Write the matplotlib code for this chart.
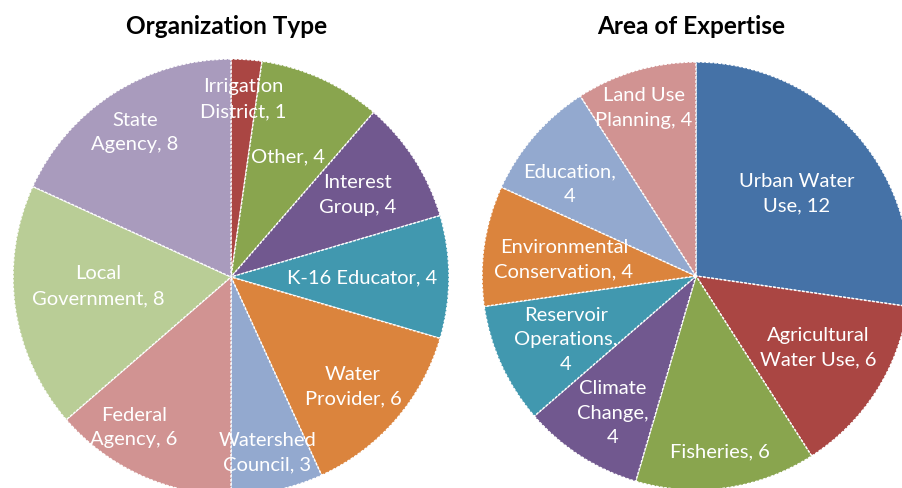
import matplotlib
matplotlib.use("Agg")
import matplotlib.pyplot as plt

W, H = 902, 489

# Organization Type
org_labels = ["Irrigation\nDistrict, 1", "Other, 4", "Interest\nGroup, 4",
              "K-16 Educator, 4", "Water\nProvider, 6", "Watershed\nCouncil, 3",
              "Federal\nAgency, 6", "Local\nGovernment, 8", "State\nAgency, 8"]
org_values = [1, 4, 4, 4, 6, 3, 6, 8, 8]
org_colors = ["#AA4643", "#89A54E", "#71588F", "#4198AF", "#DB843D",
              "#93A9CF", "#D19392", "#B9CD96", "#A99BBD"]

# Area of Expertise
area_labels = ["Urban Water\nUse, 12", "Agricultural\nWater Use, 6", "Fisheries, 6",
               "Climate\nChange,\n4", "Reservoir\nOperations,\n4",
               "Environmental\nConservation, 4", "Education,\n4", "Land Use\nPlanning, 4"]
area_values = [12, 6, 6, 4, 4, 4, 4, 4]
area_colors = ["#4572A7", "#AA4643", "#89A54E", "#71588F", "#4198AF",
               "#DB843D", "#93A9CF", "#D19392"]

# label placement (pie radius units), Excel-style "best fit"
org_pos = [(0.055, 0.82), (0.26, 0.555), (0.58, 0.38), (0.60, 0.0), (0.56, -0.50),
           (0.167, -0.80), (-0.445, -0.686), (-0.61, -0.037), (-0.44, 0.667)]
area_pos = [(0.47, 0.39), (0.57, -0.33), (0.112, -0.816), (-0.388, -0.636),
            (-0.607, -0.294), (-0.617, 0.08), (-0.59, 0.435), (-0.243, 0.79)]


def pie_axes(fig, cx, cy, r):
    # cx, cy, r in pixels, y measured from top
    ax = fig.add_axes([(cx - r) / W, (H - cy - r) / H, 2 * r / W, 2 * r / H])
    ax.set_xlim(-1, 1)
    ax.set_ylim(-1, 1)
    ax.axis("off")
    return ax


def draw_pie(ax, values, colors, labels, pos):
    ax.pie(values, colors=colors, startangle=90, counterclock=False, radius=1,
           wedgeprops=dict(edgecolor="white", linewidth=1.0, linestyle=(0, (2, 1))))
    ax.set_xlim(-1, 1)
    ax.set_ylim(-1, 1)
    for lab, (x, y) in zip(labels, pos):
        ax.text(x, y, lab, ha="center", va="center", color="white",
                fontsize=14.5, family="Lato", linespacing=1.55)


fig = plt.figure(figsize=(W / 100, H / 100), dpi=100)

ax1 = pie_axes(fig, 231, 278, 218)
draw_pie(ax1, org_values, org_colors, org_labels, org_pos)
ax2 = pie_axes(fig, 696, 277, 214)
draw_pie(ax2, area_values, area_colors, area_labels, area_pos)

fig.text(227 / W, 1 - 26 / H, "Organization Type", ha="center", va="center",
         fontsize=17.6, fontweight="bold", family="Lato")
fig.text(691 / W, 1 - 26 / H, "Area of Expertise", ha="center", va="center",
         fontsize=17.6, fontweight="bold", family="Lato")

fig.savefig("out.png", dpi=100)
